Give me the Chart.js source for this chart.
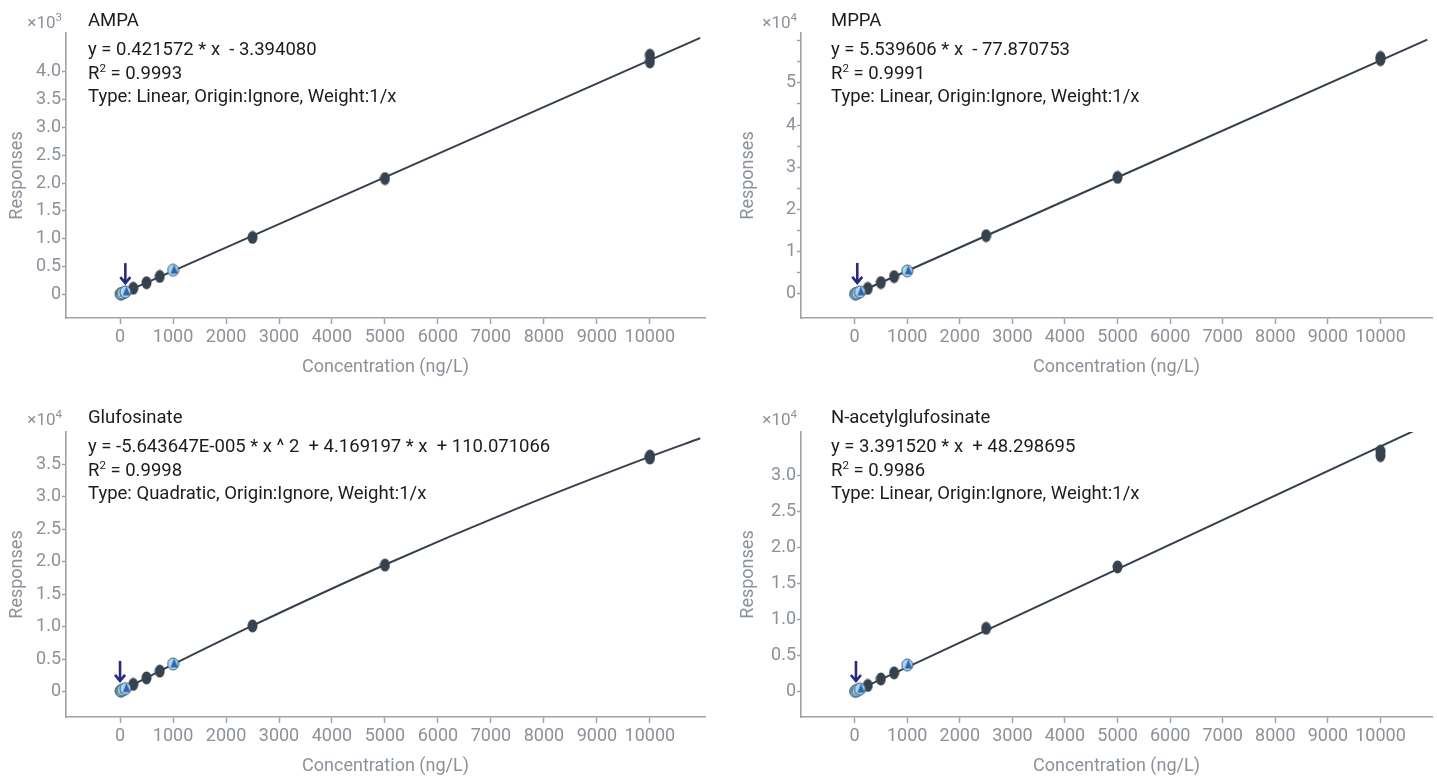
<!DOCTYPE html>
<html>
<head>
<meta charset="utf-8">
<script src="https://cdn.jsdelivr.net/npm/chart.js@4.4.1/dist/chart.umd.min.js"></script>
<style>
body { margin: 0; background: #fff; width: 1437px; height: 779px; overflow: hidden; position: relative; font-family: Roboto, sans-serif; }
canvas { position: absolute; }
.lbl { position: absolute; font-size: 18.5px; line-height: 22px; color: #1c1c1c; white-space: pre; }
.mult { position: absolute; font-size: 17px; line-height: 22px; color: #8b9299; text-align: right; width: 60px; }
sup { font-size: 11.5px; vertical-align: 7px; line-height: 0; }
</style>
</head>
<body>
<canvas id="c1"></canvas>
<canvas id="c2"></canvas>
<canvas id="c3"></canvas>
<canvas id="c4"></canvas>
<div id="texts"></div>
<script>
// x axis
var xTicks = [0, 1000, 2000, 3000, 4000, 5000, 6000, 7000, 8000, 9000, 10000];

// calibration levels (ng/L)
var levels = [250, 500, 750, 2500, 5000, 10000, 10000];
var qcLevels = [10, 25, 50, 100, 1000];

// AMPA
var ampaResp = [105, 205, 318, 1020, 2080, 4300, 4180];
var ampaQc = [2, 8, 20, 40, 430];
var ampaFitX = [10, 10950];
var ampaFitY = [1, 4613];
var ampaYTicks = [0, 500, 1000, 1500, 2000, 2500, 3000, 3500, 4000];
var ampaYLabels = ['0', '0.5', '1.0', '1.5', '2.0', '2.5', '3.0', '3.5', '4.0'];

// MPPA
var mppaResp = [1300, 2700, 4100, 13800, 27600, 56000, 55500];
var mppaQc = [0, 60, 200, 480, 5450];
var mppaFitX = [10, 10890];
var mppaFitY = [-23, 60250];
var mppaYTicks = [0, 5000, 10000, 15000, 20000, 25000, 30000, 35000, 40000, 45000, 50000, 55000, 60000];
var mppaYLabels = ['0', '', '1', '', '2', '', '3', '', '4', '', '5', '', ''];

// Glufosinate
var glufResp = [1160, 2160, 3200, 10150, 19500, 36250, 35950];
var glufQc = [150, 210, 320, 520, 4300];
var glufFitX = [10, 1000, 2500, 5000, 7500, 10000, 10950];
var glufFitY = [152, 4223, 10180, 19545, 28204, 36158, 38996];
var glufYTicks = [0, 5000, 10000, 15000, 20000, 25000, 30000, 35000];
var glufYLabels = ['0', '0.5', '1.0', '1.5', '2.0', '2.5', '3.0', '3.5'];

// N-acetylglufosinate
var nacResp = [900, 1800, 2650, 8800, 17300, 33300, 32700];
var nacQc = [90, 130, 220, 390, 3730];
var nacFitX = [10, 10680];
var nacFitY = [82, 36270];
var nacYTicks = [0, 5000, 10000, 15000, 20000, 25000, 30000];
var nacYLabels = ['0', '0.5', '1.0', '1.5', '2.0', '2.5', '3.0'];

var names = ['AMPA', 'MPPA', 'Glufosinate', 'N-acetylglufosinate'];
var equations = [
    'y = 0.421572 * x  - 3.394080',
    'y = 5.539606 * x  - 77.870753',
    'y = -5.643647E-005 * x ^ 2  + 4.169197 * x  + 110.071066',
    'y = 3.391520 * x  + 48.298695'
];
var r2 = ['0.9993', '0.9991', '0.9998', '0.9986'];
var fitTypes = [
    'Type: Linear, Origin:Ignore, Weight:1/x',
    'Type: Linear, Origin:Ignore, Weight:1/x',
    'Type: Quadratic, Origin:Ignore, Weight:1/x',
    'Type: Linear, Origin:Ignore, Weight:1/x'
];
var exponents = ['3', '4', '4', '4'];

// marker images
function darkDot() {
    var c = document.createElement('canvas');
    c.width = 11; c.height = 14;
    var g = c.getContext('2d');
    g.fillStyle = '#37424f';
    g.beginPath();
    g.ellipse(5.5, 7, 5, 6.5, 0, 0, Math.PI * 2);
    g.fill();
    return c;
}
function qcDot() {
    var c = document.createElement('canvas');
    c.width = 13; c.height = 14;
    var g = c.getContext('2d');
    g.fillStyle = '#a9d6f0';
    g.strokeStyle = '#3b5670';
    g.lineWidth = 1;
    g.beginPath();
    g.ellipse(6.5, 7, 5.5, 6, 0, 0, Math.PI * 2);
    g.fill();
    g.stroke();
    g.fillStyle = '#2f64b0';
    g.beginPath();
    g.moveTo(7.5, 1.5);
    g.lineTo(11.5, 10.5);
    g.lineTo(4, 10.5);
    g.closePath();
    g.fill();
    return c;
}
var darkImg = darkDot();
var qcImg = qcDot();

function pts(xs, ys) {
    return xs.map(function (x, i) { return { x: x, y: ys[i] }; });
}

var arrowPlugin = {
    id: 'arrow',
    afterDatasetsDraw: function (chart, args, opts) {
        var ctx = chart.ctx;
        var x = chart.scales.x.getPixelForValue(opts.at);
        var y0 = chart.scales.y.getPixelForValue(0);
        var tip = y0 - 11, tail = y0 - 31;
        ctx.save();
        ctx.strokeStyle = '#28297a';
        ctx.lineWidth = 2.6;
        ctx.beginPath();
        ctx.moveTo(x, tail);
        ctx.lineTo(x, tip - 1);
        ctx.stroke();
        ctx.beginPath();
        ctx.moveTo(x - 5, tip - 6);
        ctx.lineTo(x, tip);
        ctx.lineTo(x + 5, tip - 6);
        ctx.stroke();
        ctx.restore();
    }
};

function makeChart(id, box, d) {
    var el = document.getElementById(id);
    el.style.left = box.left + 'px';
    el.style.top = box.top + 'px';
    el.width = box.w;
    el.height = box.h;
    var grey = '#8b9299';
    var axisColor = '#9ea3a8';
    return new Chart(el, {
        type: 'scatter',
        data: {
            datasets: [{
                data: pts(qcLevels, d.qc),
                pointStyle: qcImg,
                order: 1
            }, {
                data: pts(levels, d.resp),
                pointStyle: darkImg,
                order: 2
            }, {
                data: pts(d.fitX, d.fitY),
                showLine: true,
                pointRadius: 0,
                borderColor: '#36404c',
                borderWidth: 2,
                cubicInterpolationMode: 'monotone',
                order: 3
            }]
        },
        options: {
            responsive: false,
            animation: false,
            layout: { padding: { left: 0, top: box.padTop, right: box.padRight, bottom: box.padBottom } },
            plugins: {
                legend: { display: false },
                tooltip: { enabled: false },
                arrow: { at: d.arrowAt }
            },
            scales: {
                x: {
                    type: 'linear',
                    min: -1020,
                    max: box.xMax,
                    afterBuildTicks: function (s) { s.ticks = xTicks.map(function (v) { return { value: v }; }); },
                    afterFit: function (s) { s.height = 60; },
                    grid: { drawOnChartArea: false, drawTicks: true, tickLength: 6, tickColor: axisColor, tickWidth: 1.5 },
                    border: { display: true, color: axisColor, width: 1.6 },
                    ticks: {
                        autoSkip: false, maxRotation: 0, padding: 3, color: grey,
                        font: { family: 'Roboto', size: 18 },
                        callback: function (v) { return String(v); }
                    },
                    title: {
                        display: true, text: 'Concentration (ng/L)', color: grey,
                        font: { family: 'Roboto', size: 18 }, padding: { top: 4, bottom: 0 }
                    }
                },
                y: {
                    type: 'linear',
                    min: d.yMin,
                    max: d.yMax,
                    afterBuildTicks: function (s) { s.ticks = d.yTicks.map(function (v) { return { value: v }; }); },
                    afterFit: function (s) { s.width = 66; },
                    grid: { drawOnChartArea: false, drawTicks: true, tickLength: 4, tickColor: axisColor, tickWidth: 1.5 },
                    border: { display: true, color: axisColor, width: 1.6 },
                    ticks: {
                        autoSkip: false, padding: 1, color: grey,
                        font: { family: 'Roboto', size: 18 },
                        callback: function (v, i) { return d.yLabels[i]; }
                    },
                    title: {
                        display: true, text: 'Responses', color: grey,
                        font: { family: 'Roboto', size: 18 }, padding: { top: box.titlePad, bottom: 4 }
                    }
                }
            }
        },
        plugins: [arrowPlugin]
    });
}

var boxes = [
    { left: 0, top: 0, w: 718, h: 390, padTop: 33, padBottom: 12, padRight: 13, xMax: 11040, titlePad: 6.2 },
    { left: 735, top: 0, w: 702, h: 390, padTop: 33, padBottom: 12, padRight: 0, xMax: 10980, titlePad: 2.2 },
    { left: 0, top: 400, w: 718, h: 379, padTop: 32, padBottom: 2, padRight: 13, xMax: 11040, titlePad: 6.2 },
    { left: 735, top: 400, w: 702, h: 379, padTop: 32, padBottom: 2, padRight: 0, xMax: 10980, titlePad: 2.2 }
];

makeChart('c1', boxes[0], { resp: ampaResp, qc: ampaQc, fitX: ampaFitX, fitY: ampaFitY, yMin: -430, yMax: 4700, yTicks: ampaYTicks, yLabels: ampaYLabels, arrowAt: 100 });
makeChart('c2', boxes[1], { resp: mppaResp, qc: mppaQc, fitX: mppaFitX, fitY: mppaFitY, yMin: -5700, yMax: 61800, yTicks: mppaYTicks, yLabels: mppaYLabels, arrowAt: 50 });
makeChart('c3', boxes[2], { resp: glufResp, qc: glufQc, fitX: glufFitX, fitY: glufFitY, yMin: -3850, yMax: 39950, yTicks: glufYTicks, yLabels: glufYLabels, arrowAt: 0 });
makeChart('c4', boxes[3], { resp: nacResp, qc: nacQc, fitX: nacFitX, fitY: nacFitY, yMin: -3460, yMax: 35960, yTicks: nacYTicks, yLabels: nacYLabels, arrowAt: 25 });

// text blocks above each plot
var holder = document.getElementById('texts');
var textLeft = [88, 831, 88, 831];
var textTop = [9, 9, 406, 406];
var multRight = [62, 797, 62, 797];
names.forEach(function (n, i) {
    var rows = [n, equations[i], 'R<sup>2</sup> = ' + r2[i], fitTypes[i]];
    var offs = [0, 29, 53, 76];
    rows.forEach(function (t, j) {
        var div = document.createElement('div');
        div.className = 'lbl';
        div.style.left = textLeft[i] + 'px';
        div.style.top = (textTop[i] + offs[j]) + 'px';
        div.innerHTML = t;
        holder.appendChild(div);
    });
    var m = document.createElement('div');
    m.className = 'mult';
    m.style.left = (multRight[i] - 60) + 'px';
    m.style.top = (textTop[i] + 2) + 'px';
    m.innerHTML = '×10<sup>' + exponents[i] + '</sup>';
    holder.appendChild(m);
});
</script>
</body>
</html>
